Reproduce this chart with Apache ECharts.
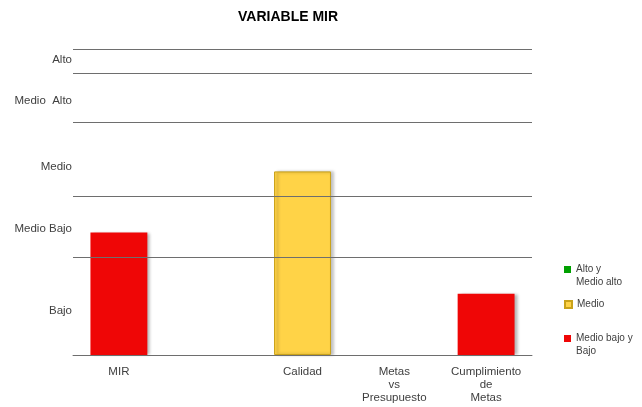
<!DOCTYPE html>
<html>
<head>
<meta charset="utf-8">
<script src="https://cdn.jsdelivr.net/npm/echarts@6/dist/echarts.min.js"></script>
<style>
html, body { margin: 0; padding: 0; background: #fff; }
#chart { width: 642px; height: 407px; }
</style>
</head>
<body>
<div id="chart"></div>
<script>
// categorias del eje x
var categories = ['MIR', '', 'Calidad', 'Metas\nvs\nPresupuesto', 'Cumplimiento\nde\nMetas'];
// valores por serie (semaforo)
var altoValues = ['-', '-', '-', '-', '-'];
var medioValues = ['-', '-', 15, '-', '-'];
var bajoValues = [10, '-', '-', '-', 5];
// lineas de division del eje y
var gridValues = [0, 8, 13, 19, 23, 25];
// etiquetas del eje y
var levelNames = ['Bajo', 'Medio Bajo', 'Medio', 'Medio  Alto', 'Alto'];
var levelPositions = [3.6, 10.3, 15.4, 20.8, 24.1];

var seriesNames = ['Alto y Medio alto', 'Medio', 'Medio bajo y Bajo'];
var legendLabels = ['Alto y\nMedio alto', 'Medio', 'Medio bajo y\nBajo'];

var font = 'Liberation Sans';
var chart = echarts.init(document.getElementById('chart'));

function barShadow(color, border) {
    return {
        color: color,
        borderColor: border,
        borderWidth: border ? 1 : 0,
        shadowColor: 'rgba(0,0,0,0.3)',
        shadowBlur: 3,
        shadowOffsetX: 3,
        shadowOffsetY: 0
    };
}

// leyendas separadas; linea vacia delante para que el icono quede en la primera linea
function makeLegend(idx, top, twoLines) {
    return {
        data: [seriesNames[idx]],
        orient: 'vertical',
        left: 564,
        top: top,
        padding: 0,
        icon: 'rect',
        itemWidth: 7,
        itemHeight: 7,
        selectedMode: false,
        formatter: function () { return (twoLines ? '\n' : '') + legendLabels[idx]; },
        textStyle: {
            fontFamily: font,
            fontSize: 10,
            color: '#404040',
            lineHeight: 13
        }
    };
}

var option = {
    animation: false,
    title: {
        text: 'VARIABLE MIR',
        left: 238,
        top: 10,
        padding: 0,
        textStyle: { fontFamily: font, fontSize: 14, fontWeight: 'bold', color: '#000' }
    },
    legend: [
        makeLegend(0, 250, true),
        makeLegend(1, 298, false),
        makeLegend(2, 319, true)
    ],
    grid: { left: 73, right: 110, top: 49, bottom: 52, containLabel: false },
    xAxis: {
        type: 'category',
        data: categories,
        axisLine: { show: true, lineStyle: { color: '#7a7a7a', width: 1 } },
        axisTick: { show: false },
        axisLabel: {
            interval: 0,
            margin: 10,
            fontFamily: font,
            fontSize: 11.5,
            lineHeight: 13.3,
            color: '#404040'
        }
    },
    yAxis: {
        type: 'value',
        min: 0,
        max: 25,
        z: 5,
        axisLine: { show: false },
        axisTick: { show: false, customValues: gridValues },
        splitLine: { show: true, lineStyle: { color: '#6e6e6e', width: 1 } },
        axisLabel: {
            customValues: levelPositions,
            margin: 1,
            fontFamily: font,
            fontSize: 11.5,
            color: '#404040',
            formatter: function (v) {
                for (var i = 0; i < levelPositions.length; i++) {
                    if (Math.abs(levelPositions[i] - v) < 0.01) return levelNames[i];
                }
                return '';
            }
        }
    },
    series: [
        {
            name: seriesNames[0],
            type: 'bar',
            stack: 'nivel',
            barWidth: '62%',
            data: altoValues,
            itemStyle: barShadow('#00A000', null)
        },
        {
            name: seriesNames[1],
            type: 'bar',
            stack: 'nivel',
            barWidth: '62%',
            data: medioValues,
            itemStyle: barShadow('#FFD347', '#C9A21A')
        },
        {
            name: seriesNames[2],
            type: 'bar',
            stack: 'nivel',
            barWidth: '62%',
            data: bajoValues,
            itemStyle: barShadow('#EF0606', null)
        }
    ]
};
chart.setOption(option);
</script>
</body>
</html>
